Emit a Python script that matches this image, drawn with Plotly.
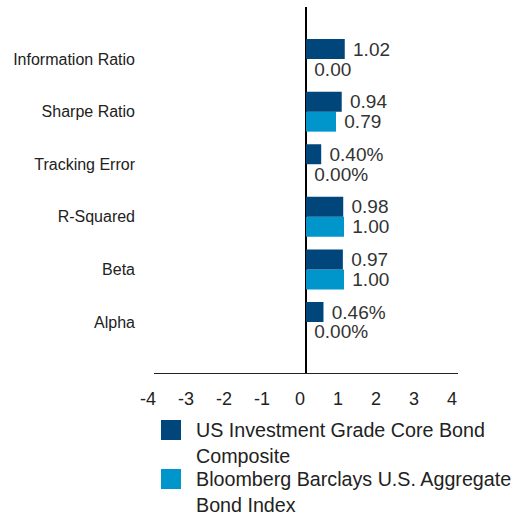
import textwrap
import plotly.graph_objects as go

# ---- data ----
categories = ["Information Ratio", "Sharpe Ratio", "Tracking Error", "R-Squared", "Beta", "Alpha"]
composite_values = [1.02, 0.94, 0.40, 0.98, 0.97, 0.46]
index_values = [0.00, 0.79, 0.00, 1.00, 1.00, 0.00]
value_suffix = ["", "", "%", "", "", "%"]
series_names = ["US Investment Grade Core Bond Composite",
                "Bloomberg Barclays U.S. Aggregate Bond Index"]
x_ticks = [-4, -3, -2, -1, 0, 1, 2, 3, 4]

# ---- style ----
DARK = "#00467A"
LIGHT = "#0096CC"
TEXT = "#333333"
FONT = "Liberation Sans, Arial, sans-serif"

W, H = 514, 516
L, R, T, B = 154, 458, 7, 373


def px(x):
    return (x - L) / (R - L)


def py(y):
    return (B - y) / (B - T)


def labels(values):
    return ["\u00a0" + f"{v:.2f}{s}" for v, s in zip(values, value_suffix)]


fig = go.Figure()
# lower bar of each group first (horizontal grouped bars stack upward)
fig.add_trace(go.Bar(
    y=categories, x=index_values, orientation="h", name=series_names[1],
    marker=dict(color=LIGHT, line=dict(width=0)),
    text=labels(index_values), textposition="outside", constraintext="none",
    textfont=dict(family=FONT, size=19, color=TEXT), cliponaxis=False,
    showlegend=False,
))
fig.add_trace(go.Bar(
    y=categories, x=composite_values, orientation="h", name=series_names[0],
    marker=dict(color=DARK, line=dict(width=0)),
    text=labels(composite_values), textposition="outside", constraintext="none",
    textfont=dict(family=FONT, size=19, color=TEXT), cliponaxis=False,
    showlegend=False,
))

# manual legend (large square swatches, wrapped labels)
legend_items = [(series_names[0], DARK, 420), (series_names[1], LIGHT, 469)]
shapes = []
annotations = []
for name, color, top in legend_items:
    shapes.append(dict(type="rect", xref="paper", yref="paper",
                       x0=px(161), x1=px(181), y0=py(top + 20), y1=py(top),
                       fillcolor=color, line=dict(width=0)))
    annotations.append(dict(
        xref="paper", yref="paper", x=px(194), y=py(top + 23),
        xanchor="left", yanchor="middle", align="left", showarrow=False,
        text="<br>".join(textwrap.wrap(name, 33)),
        font=dict(family=FONT, size=19.7, color="#222222"),
    ))

fig.update_layout(
    width=W, height=H,
    margin=dict(l=L, r=W - R, t=T, b=H - B, pad=0, autoexpand=False),
    paper_bgcolor="white", plot_bgcolor="white",
    barmode="group", bargap=0.24, bargroupgap=0,
    showlegend=False,
    xaxis=dict(
        range=[-4, 4], tickmode="array", tickvals=x_ticks,
        ticktext=[str(t) for t in x_ticks],
        showgrid=False, zeroline=True, zerolinecolor="#000000", zerolinewidth=2,
        showline=True, linecolor="#222222", linewidth=1,
        ticks="", ticklabelstandoff=9, ticklabelshift=-6,
        tickfont=dict(family=FONT, size=18, color="#222222"),
        automargin=False, fixedrange=True,
    ),
    yaxis=dict(
        type="category", categoryorder="array", categoryarray=categories[::-1],
        range=[-0.97, 5.99],
        showgrid=False, zeroline=False, showline=False, ticks="",
        ticklabelstandoff=18,
        tickfont=dict(family=FONT, size=16, color="#222222"),
        automargin=False, fixedrange=True,
    ),
    shapes=shapes,
    annotations=annotations,
)

fig.write_html(
    "out.html",
    config={"displayModeBar": False, "staticPlot": True},
    post_script="document.body.style.margin='0';document.body.style.padding='0';",
)
